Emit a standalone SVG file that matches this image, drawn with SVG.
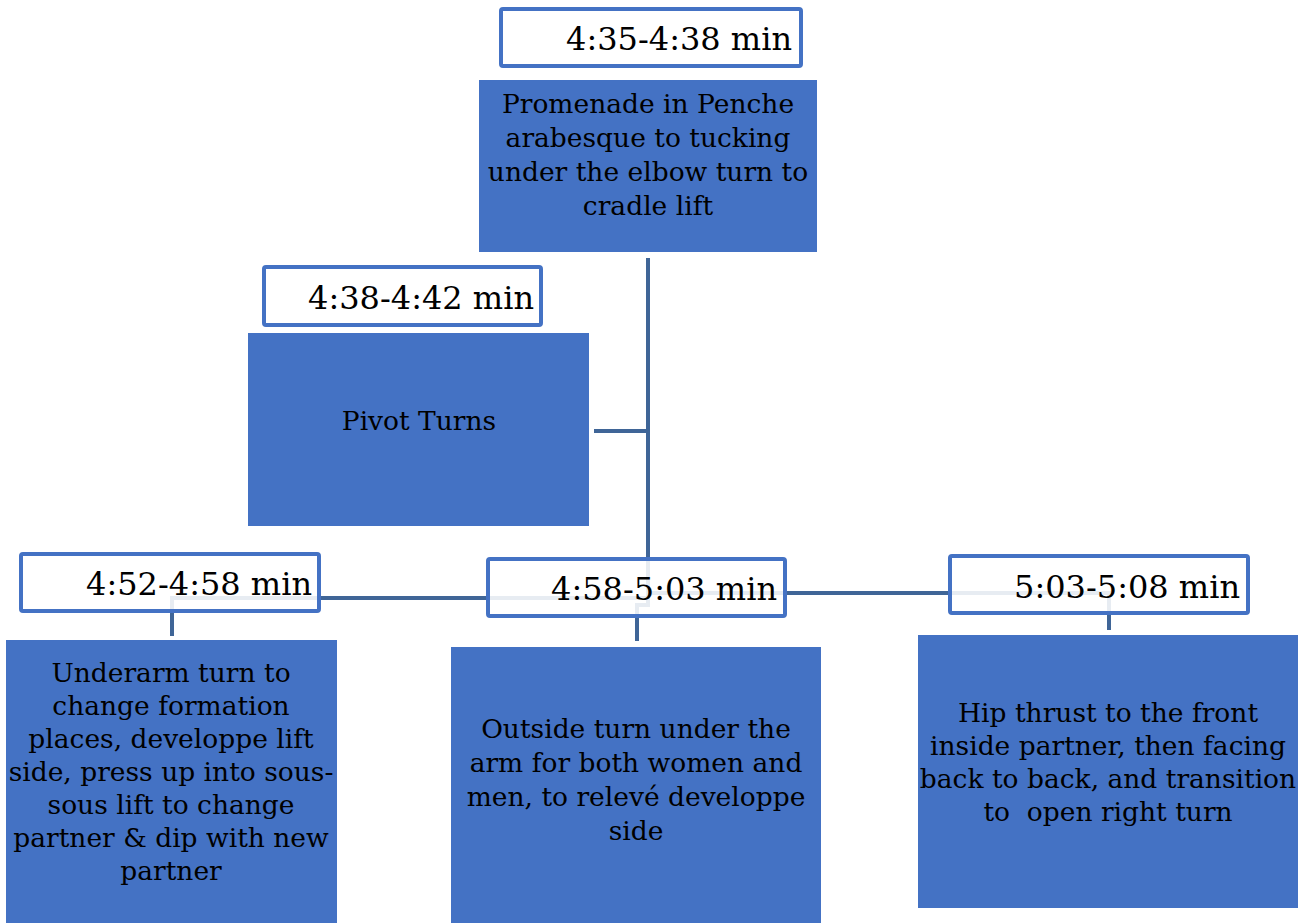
<svg xmlns="http://www.w3.org/2000/svg" width="1314" height="923" viewBox="0 0 1314 923">
  <style>
    .box { fill: #4472C4; }
    .tag { fill: #ffffff; fill-opacity: 0.88; stroke: #4472C4; stroke-width: 4; }
    .body { font-family: "DejaVu Serif", "Liberation Serif", serif; font-size: 26.5px; fill: #000; text-anchor: middle; }
    .time { font-family: "DejaVu Serif", "Liberation Serif", serif; font-size: 32px; fill: #000; text-anchor: end; }
    .link { fill: none; stroke: #3F6597; stroke-width: 4; }
  </style>
  <rect width="1314" height="923" fill="#ffffff"/>

  <!-- connectors (drawn beneath the time tags) -->
  <g id="connectors">
    <path class="link" d="M648,258 V605 H637 V641"/>
    <path class="link" d="M594,431 H648"/>
    <path class="link" d="M172,636 V598 H648"/>
    <path class="link" d="M648,593 H1109 V630"/>
  </g>

  <g id="node-promenade">
    <rect class="box" x="479" y="80" width="338" height="172"/>
    <text class="body" x="648" y="113">Promenade in Penche</text>
    <text class="body" x="648" y="147">arabesque to tucking</text>
    <text class="body" x="648" y="181">under the elbow turn to</text>
    <text class="body" x="648" y="215">cradle lift</text>
  </g>
  <g id="tag-435">
    <rect class="tag" x="501" y="9" width="300" height="57" rx="2"/>
    <text class="time" x="792" y="50">4:35-4:38 min</text>
  </g>

  <g id="node-pivot">
    <rect class="box" x="248" y="333" width="341" height="193"/>
    <text class="body" x="419" y="430">Pivot Turns</text>
  </g>
  <g id="tag-438">
    <rect class="tag" x="264" y="267" width="277" height="58" rx="2"/>
    <text class="time" x="534" y="309">4:38-4:42 min</text>
  </g>

  <g id="node-underarm">
    <rect class="box" x="6" y="640" width="331" height="283"/>
    <text class="body" x="171" y="682">Underarm turn to</text>
    <text class="body" x="171" y="715">change formation</text>
    <text class="body" x="171" y="748">places, developpe lift</text>
    <text class="body" x="171" y="781">side, press up into sous-</text>
    <text class="body" x="171" y="814">sous lift to change</text>
    <text class="body" x="171" y="847">partner &amp; dip with new</text>
    <text class="body" x="171" y="880">partner</text>
  </g>
  <g id="tag-452">
    <rect class="tag" x="21" y="554" width="298" height="57" rx="2"/>
    <text class="time" x="312" y="595">4:52-4:58 min</text>
  </g>

  <g id="node-outside">
    <rect class="box" x="451" y="647" width="370" height="276"/>
    <text class="body" x="636" y="738">Outside turn under the</text>
    <text class="body" x="636" y="772">arm for both women and</text>
    <text class="body" x="636" y="806">men, to relevé developpe</text>
    <text class="body" x="636" y="840">side</text>
  </g>
  <g id="tag-458">
    <rect class="tag" x="488" y="559" width="297" height="57" rx="2"/>
    <text class="time" x="777" y="600">4:58-5:03 min</text>
  </g>

  <g id="node-hip">
    <rect class="box" x="918" y="635" width="380" height="273"/>
    <text class="body" x="1108" y="722">Hip thrust to the front</text>
    <text class="body" x="1108" y="755">inside partner, then facing</text>
    <text class="body" x="1108" y="788">back to back, and transition</text>
    <text class="body" x="1108" y="821" xml:space="preserve">to  open right turn</text>
  </g>
  <g id="tag-503">
    <rect class="tag" x="950" y="556" width="298" height="57" rx="2"/>
    <text class="time" x="1240" y="598">5:03-5:08 min</text>
  </g>
</svg>
